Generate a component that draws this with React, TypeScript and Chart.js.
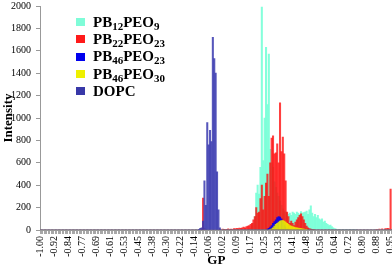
import React, { useEffect, useRef } from "react";
import { Chart, registerables } from "chart.js";

Chart.register(...registerables);

// ---- categories / ticks ----
const BIN_COUNT = 252; // GP bins of width 1/128 starting at -1.00
const xTickEvery = 10;
const xTickLabels = [
  "-1.00", "-0.92", "-0.84", "-0.77", "-0.69", "-0.61", "-0.53", "-0.45", "-0.38",
  "-0.30", "-0.22", "-0.14", "-0.06", "0.02", "0.09", "0.17", "0.25", "0.33",
  "0.41", "0.48", "0.56", "0.64", "0.72", "0.80", "0.88", "0.95",
];
const yMax = 2000;
const yStep = 200;

// ---- series (sparse segments: start bin index + values) ----
const seriesNames = ["PB12PEO9", "PB22PEO23", "PB46PEO23", "PB46PEO30", "DOPC"];
const seriesColors = [
  "rgba(120,255,215,0.9)",
  "rgba(255,10,10,0.78)",
  "rgba(0,0,240,0.85)",
  "rgba(235,240,0,0.85)",
  "rgba(58,58,175,0.85)",
];
const legendColors = ["#7ffcd8", "#ff1a1a", "#0000ee", "#eef000", "#3838a8"];

const pb12peo9Start = 148;
const pb12peo9Values = [
  5, 10, 15, 40, 60, 120, 330, 400, 320, 560, 1990, 620, 1000, 1630, 1120, 1570,
  720, 600, 560, 430, 380, 330, 300, 260, 220, 190, 170, 160, 150, 140, 150, 130,
  160, 150, 140, 160, 150, 140, 165, 150, 155, 160, 170, 140, 180, 216, 150, 120,
  140, 110, 130, 100, 90, 100, 70, 80, 60, 50, 40, 45, 30, 20, 12, 8, 6, 5, 4, 4,
  4, 3, 3, 3, 3, 3, 3, 3, 3, 3,
];

const pb22peo23StartA = 115;
const pb22peo23ValuesA = [10, 285, 12];
const pb22peo23StartB = 128;
const pb22peo23ValuesB = [
  5, 0, 8, 3, 5, 6, 10, 4, 8, 6, 12, 10, 15, 12, 18, 15, 20, 25, 20, 30, 35, 40,
  50, 60, 90, 120, 200, 150, 160, 280, 400, 180, 300, 420, 500, 300, 600, 820, 840,
  680, 690, 770, 600, 1135, 700, 830, 680, 440, 160, 120, 60, 80, 60, 40, 70, 90,
  110, 130, 145, 120, 90, 60, 35, 20, 12, 8, 5, 3,
];
const pb22peo23StartC = 240;
const pb22peo23ValuesC = [5, 0, 8, 0, 10, 0, 10, 12, 15, 10, 365];

const pb46peo23Start = 162;
const pb46peo23Values = [8, 15, 25, 40, 60, 75, 90, 110, 120, 115, 100, 70, 45, 25, 10, 5];

const pb46peo30Start = 164;
const pb46peo30Values = [
  5, 10, 20, 35, 50, 60, 70, 80, 85, 85, 80, 70, 60, 50, 40, 35, 30, 25, 22, 20,
  18, 15, 12, 10, 8, 5, 3,
];

const dopcStart = 113;
const dopcValues = [5, 15, 20, 80, 440, 220, 960, 760, 890, 790, 1720, 1530, 1400, 520, 180, 20];

function buildSeries(segments: Array<[number, number[]]>): number[] {
  const arr: number[] = new Array(BIN_COUNT).fill(0);
  segments.forEach(([start, vals]) => {
    vals.forEach((v, k) => {
      if (start + k < BIN_COUNT) arr[start + k] = v;
    });
  });
  return arr;
}

const categories: string[] = Array.from({ length: BIN_COUNT }, (_, i) =>
  i % xTickEvery === 0 && xTickLabels[i / xTickEvery] !== undefined ? xTickLabels[i / xTickEvery] : ""
);

const FONT = '"Liberation Serif", "Times New Roman", serif';

// canvas is slightly larger than the view and cropped, so the plot reaches the right edge
const CANVAS_W = 406;
const CANVAS_H = 275;
const CANVAS_TOP = -5;

function renderName(name: string) {
  const parts = name.split(/(\d+)/).filter((p) => p.length > 0);
  return parts.map((p, k) =>
    /^\d+$/.test(p) ? (
      <sub key={k} style={{ fontSize: 11, verticalAlign: "-3px", lineHeight: 0 }}>
        {p}
      </sub>
    ) : (
      <span key={k}>{p}</span>
    )
  );
}

export default function App() {
  const canvasRef = useRef<HTMLCanvasElement | null>(null);

  useEffect(() => {
    const canvas = canvasRef.current;
    if (!canvas) return;
    const seriesData = [
      buildSeries([[pb12peo9Start, pb12peo9Values]]),
      buildSeries([
        [pb22peo23StartA, pb22peo23ValuesA],
        [pb22peo23StartB, pb22peo23ValuesB],
        [pb22peo23StartC, pb22peo23ValuesC],
      ]),
      buildSeries([[pb46peo23Start, pb46peo23Values]]),
      buildSeries([[pb46peo30Start, pb46peo30Values]]),
      buildSeries([[dopcStart, dopcValues]]),
    ];
    const drawOrder = [5, 4, 3, 2, 1];
    const chart = new Chart(canvas, {
      type: "bar",
      data: {
        labels: categories,
        datasets: seriesNames.map((name, k) => ({
          label: name,
          data: seriesData[k],
          backgroundColor: seriesColors[k],
          borderWidth: 0,
          order: drawOrder[k],
          grouped: false,
          barPercentage: 1,
          categoryPercentage: 1,
        })),
      },
      options: {
        animation: false,
        responsive: false,
        maintainAspectRatio: false,
        devicePixelRatio: 1,
        layout: { padding: 0 },
        plugins: { legend: { display: false }, tooltip: { enabled: false } },
        scales: {
          x: {
            type: "category",
            offset: true,
            grid: {
              display: true,
              drawOnChartArea: false,
              drawTicks: true,
              tickLength: 4,
              color: "#a8a8a8",
              offset: true,
            },
            border: { display: true, color: "#999999", width: 1 },
            ticks: {
              autoSkip: false,
              minRotation: 90,
              maxRotation: 90,
              padding: 2,
              color: "#000",
              font: { family: FONT, size: 10 },
              callback: (_v: any, i: number) => categories[i],
            },
            title: {
              display: true,
              text: "GP",
              color: "#000",
              font: { family: FONT, size: 13, weight: "bold" },
              padding: { top: 0, bottom: 2 },
            },
            afterFit: (s: any) => {
              s.height = 40;
            },
          },
          y: {
            min: 0,
            max: yMax,
            grid: {
              display: true,
              drawOnChartArea: false,
              drawTicks: true,
              tickLength: 4,
              color: "#999999",
            },
            border: { display: true, color: "#999999", width: 1 },
            ticks: {
              stepSize: yStep,
              padding: 5,
              color: "#000",
              font: { family: FONT, size: 10 },
              callback: (v: any) => String(v),
            },
            title: {
              display: true,
              text: "Intensity",
              color: "#000",
              font: { family: FONT, size: 13, weight: "bold" },
              padding: { top: 1, bottom: 0 },
            },
            afterFit: (s: any) => {
              s.width = 40;
            },
          },
        },
      },
    } as any);
    return () => chart.destroy();
  }, []);

  return (
    <div style={{ position: "absolute", left: 0, top: 0, width: 392, height: 270, background: "#fff", overflow: "hidden" }}>
      <canvas
        ref={canvasRef}
        width={CANVAS_W}
        height={CANVAS_H}
        style={{ position: "absolute", left: 0, top: CANVAS_TOP, width: CANVAS_W, height: CANVAS_H, display: "block" }}
      />
      <div
        style={{
          position: "absolute",
          left: 76,
          top: 13.5,
          fontFamily: FONT,
          fontWeight: "bold",
          fontSize: 15,
          color: "#000",
          pointerEvents: "none",
        }}
      >
        {seriesNames.map((n, k) => (
          <div key={n} style={{ display: "flex", alignItems: "center", height: 17.3, whiteSpace: "nowrap" }}>
            <span
              style={{ display: "inline-block", width: 9, height: 8, background: legendColors[k], marginRight: 8 }}
            />
            <span style={{ lineHeight: "15px" }}>{renderName(n)}</span>
          </div>
        ))}
      </div>
    </div>
  );
}
